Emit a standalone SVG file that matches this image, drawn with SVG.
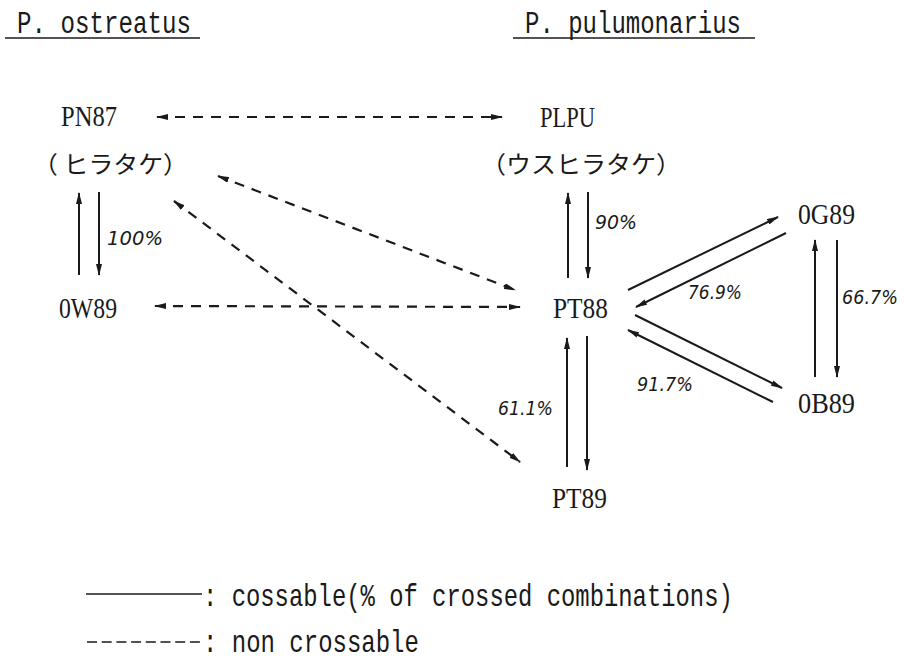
<svg xmlns="http://www.w3.org/2000/svg" width="904" height="661" viewBox="0 0 904 661">
<style>
  .title { font-family: "Liberation Mono", monospace; font-size: 31px; fill: #1a1a1a; }
  .node { font-family: "Liberation Serif", serif; font-size: 30px; fill: #1a1a1a; }
  .jp { font-family: "Noto Sans CJK JP", sans-serif; font-size: 24px; fill: #1a1a1a; }
  .pct { font-family: "DejaVu Sans", sans-serif; font-style: italic; font-size: 20px; fill: #1a1a1a; }
  .legend { font-family: "Liberation Mono", monospace; font-size: 32px; fill: #1a1a1a; }
  .solid { stroke: #1a1a1a; stroke-width: 2; fill: none; }
  .dash { stroke: #1a1a1a; stroke-width: 2.2; fill: none; stroke-dasharray: 10 8; }
  .uline { stroke: #1a1a1a; stroke-width: 1.6; }
</style>
<defs>
  <marker id="ah" markerUnits="userSpaceOnUse" markerWidth="12" markerHeight="6" refX="11" refY="3" orient="auto-start-reverse">
    <path d="M0,0 L12,3 L0,6 z" fill="#1a1a1a"/>
  </marker>
</defs>
<rect width="904" height="661" fill="#ffffff"/>

<g id="titles">
  <text class="title" x="17" y="33" textLength="174" lengthAdjust="spacingAndGlyphs">P. ostreatus</text>
  <line class="uline" x1="5" y1="38" x2="200" y2="38"/>
  <text class="title" x="525" y="33" textLength="216" lengthAdjust="spacingAndGlyphs">P. pulumonarius</text>
  <line class="uline" x1="513" y1="38" x2="755" y2="38"/>
</g>

<g id="PN87">
  <text class="node" x="61" y="126" textLength="56" lengthAdjust="spacingAndGlyphs">PN87</text>
  <text class="jp" x="33" y="173" textLength="155" lengthAdjust="spacingAndGlyphs">（ ヒラタケ）</text>
</g>
<g id="PLPU">
  <text class="node" x="540" y="127" textLength="55" lengthAdjust="spacingAndGlyphs">PLPU</text>
  <text class="jp" x="481" y="173" textLength="200" lengthAdjust="spacingAndGlyphs">（ウスヒラタケ）</text>
</g>
<g id="OW89">
  <text class="node" x="59" y="318" textLength="58" lengthAdjust="spacingAndGlyphs">0W89</text>
</g>
<g id="PT88">
  <text class="node" x="553" y="318" textLength="55" lengthAdjust="spacingAndGlyphs">PT88</text>
</g>
<g id="OG89">
  <text class="node" x="798" y="224" textLength="57" lengthAdjust="spacingAndGlyphs">0G89</text>
</g>
<g id="OB89">
  <text class="node" x="798" y="413" textLength="57" lengthAdjust="spacingAndGlyphs">0B89</text>
</g>
<g id="PT89">
  <text class="node" x="552" y="508" textLength="55" lengthAdjust="spacingAndGlyphs">PT89</text>
</g>

<g id="connectors">
  <!-- non crossable (dashed) -->
  <line class="dash" x1="157" y1="117" x2="502" y2="117" marker-start="url(#ah)" marker-end="url(#ah)"/>
  <line class="dash" x1="218" y1="176" x2="515" y2="290" marker-start="url(#ah)" marker-end="url(#ah)"/>
  <line class="dash" x1="174" y1="201" x2="520" y2="462" marker-start="url(#ah)" marker-end="url(#ah)"/>
  <line class="dash" x1="155" y1="306" x2="520" y2="307" marker-start="url(#ah)" marker-end="url(#ah)"/>

  <!-- crossable (solid) -->
  <line class="solid" x1="79" y1="275" x2="79" y2="193" marker-end="url(#ah)"/>
  <line class="solid" x1="99" y1="192" x2="99" y2="275" marker-end="url(#ah)"/>

  <line class="solid" x1="568" y1="278" x2="568" y2="193" marker-end="url(#ah)"/>
  <line class="solid" x1="588" y1="192" x2="588" y2="278" marker-end="url(#ah)"/>

  <line class="solid" x1="567" y1="467" x2="567" y2="338" marker-end="url(#ah)"/>
  <line class="solid" x1="587" y1="336" x2="587" y2="470" marker-end="url(#ah)"/>

  <line class="solid" x1="628" y1="290" x2="778" y2="217" marker-end="url(#ah)"/>
  <line class="solid" x1="786" y1="233" x2="636" y2="307" marker-end="url(#ah)"/>

  <line class="solid" x1="635" y1="315" x2="782" y2="388" marker-end="url(#ah)"/>
  <line class="solid" x1="773" y1="402" x2="628" y2="330" marker-end="url(#ah)"/>

  <line class="solid" x1="815" y1="377" x2="815" y2="240" marker-end="url(#ah)"/>
  <line class="solid" x1="837" y1="240" x2="837" y2="377" marker-end="url(#ah)"/>
</g>

<g id="labels">
  <text class="pct" x="107" y="245" textLength="56" lengthAdjust="spacingAndGlyphs">100%</text>
  <text class="pct" x="595" y="229" textLength="42" lengthAdjust="spacingAndGlyphs">90%</text>
  <text class="pct" x="498" y="415" textLength="55" lengthAdjust="spacingAndGlyphs">61.1%</text>
  <text class="pct" x="688" y="299" textLength="54" lengthAdjust="spacingAndGlyphs">76.9%</text>
  <text class="pct" x="637" y="391" textLength="56" lengthAdjust="spacingAndGlyphs">91.7%</text>
  <text class="pct" x="842" y="304" textLength="56" lengthAdjust="spacingAndGlyphs">66.7%</text>
</g>

<g id="legend">
  <line class="solid" x1="86" y1="594" x2="202" y2="594" style="stroke-width:1.6"/>
  <text class="legend" transform="translate(203,606) scale(0.746,1)" x="0" y="0">: cossable(% of crossed combinations)</text>
  <line class="dash" x1="87" y1="642" x2="200" y2="642" style="stroke-width:1.6;stroke-dasharray:10 4.7"/>
  <text class="legend" transform="translate(203,652) scale(0.75,1)" x="0" y="0">: non crossable</text>
</g>
</svg>
